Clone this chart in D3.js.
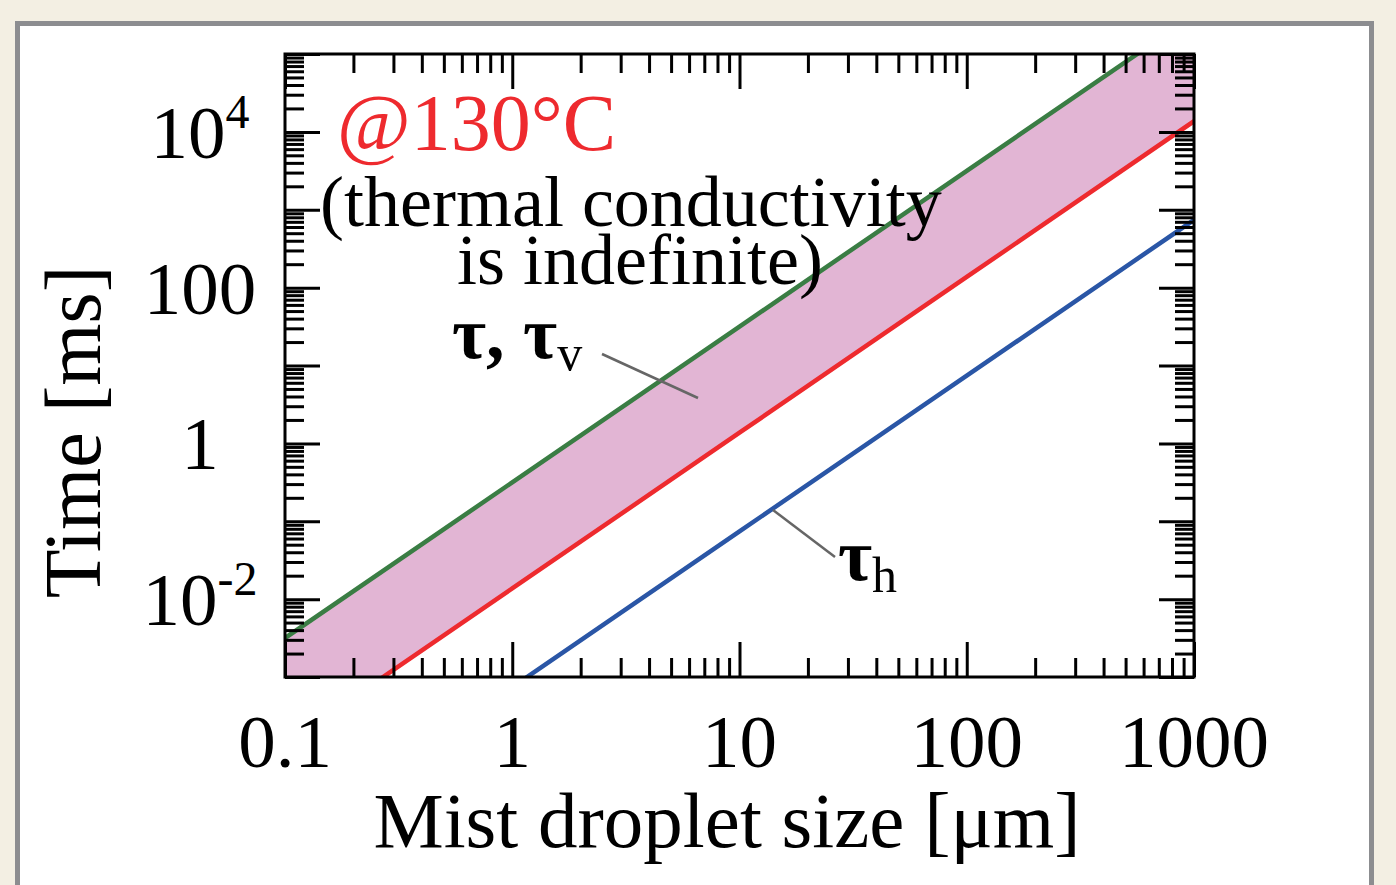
<!DOCTYPE html>
<html lang="en">

<head>
    <meta charset="UTF-8">
    <title>Mist droplet evaporation time</title>
    <style>
        body {
            margin: 0;
            padding: 0;
            background: #f3efe3;
        }

        svg {
            display: block;
        }

        text {
            font-family: "Liberation Serif", "Times New Roman", serif;
        }
    </style>
</head>

<body>

    <svg width="1396" height="885"></svg>

    <script src="https://d3js.org/d3.v7.min.js"></script>
    <script>
        // Droplet sizes [um] and times [ms] (straight lines in log-log)
        const sizes = [0.1, 1, 10, 100, 1000];
        const tauUpper = [0.00316, 0.316, 31.6, 3160, 316000];   // green
        const tauLower = [0.000137, 0.0137, 1.37, 137, 13700];   // red
        const tauH = [0.0000074, 0.00074, 0.074, 7.4, 740];       // blue

        const xLabels = ["0.1", "1", "10", "100", "1000"];
        const yLabelValues = [1e4, 100, 1, 1e-2];
        const yLabels = [["10", "4"], ["100", ""], ["1", ""], ["10", "-2"]];

        const svg = d3.select("svg");

        // plot frame
        const pLeft = 285, pRight = 1194, pTop = 54, pBottom = 677;

        const x = d3.scaleLog().domain([0.1, 1000]).range([pLeft, pRight]);
        const y = d3.scaleLog().domain([1e-3, 1e5]).range([pBottom, pTop]);

        // white panel with grey border
        svg.append("rect")
            .attr("x", 17.5).attr("y", 23.5)
            .attr("width", 1354).attr("height", 870)
            .attr("fill", "#fff")
            .attr("stroke", "#8c8d90")
            .attr("stroke-width", 5);

        svg.append("clipPath").attr("id", "plotclip")
            .append("rect")
            .attr("x", pLeft).attr("y", pTop)
            .attr("width", pRight - pLeft).attr("height", pBottom - pTop);

        const plot = svg.append("g").attr("clip-path", "url(#plotclip)");

        // shaded band between the green and red lines
        const band = d3.area()
            .x((d, i) => x(sizes[i]))
            .y0((d, i) => y(tauLower[i]))
            .y1((d, i) => y(tauUpper[i]));

        plot.append("path")
            .datum(sizes)
            .attr("d", band)
            .attr("fill", "#e2b5d4");

        const line = d3.line()
            .x(d => x(d[0]))
            .y(d => y(d[1]));

        const series = [
            { vals: tauUpper, color: "#3a7d44" },
            { vals: tauLower, color: "#ee2a2e" },
            { vals: tauH, color: "#2a56a6" }
        ];

        series.forEach(s => {
            plot.append("path")
                .datum(sizes.map((d, i) => [d, s.vals[i]]))
                .attr("d", line)
                .attr("fill", "none")
                .attr("stroke", s.color)
                .attr("stroke-width", 4.5);
        });

        // ticks - inward on all four sides
        const isMajor = v => Math.abs(Math.log10(v) - Math.round(Math.log10(v))) < 1e-9;
        const xMinor = x.ticks().filter(v => !isMajor(v));
        const xMajor = x.ticks().filter(isMajor);
        const yMinor = y.ticks().filter(v => !isMajor(v));
        const yMajor = y.ticks().filter(isMajor);

        const minorLen = 19, majorLen = 35;

        function drawAxis(axisFn, scale, pos, vals, len) {
            const g = svg.append("g")
                .attr("transform", pos)
                .call(axisFn(scale).tickValues(vals).tickSize(-len).tickFormat(""));
            g.select(".domain").remove();
            g.selectAll(".tick line").attr("stroke", "#000").attr("stroke-width", 3);
        }

        drawAxis(d3.axisBottom, x, `translate(0,${pBottom})`, xMinor, minorLen);
        drawAxis(d3.axisBottom, x, `translate(0,${pBottom})`, xMajor, majorLen);
        drawAxis(d3.axisTop, x, `translate(0,${pTop})`, xMinor, minorLen);
        drawAxis(d3.axisTop, x, `translate(0,${pTop})`, xMajor, majorLen);
        drawAxis(d3.axisLeft, y, `translate(${pLeft},0)`, yMinor, minorLen);
        drawAxis(d3.axisLeft, y, `translate(${pLeft},0)`, yMajor, majorLen);
        drawAxis(d3.axisRight, y, `translate(${pRight},0)`, yMinor, minorLen);
        drawAxis(d3.axisRight, y, `translate(${pRight},0)`, yMajor, majorLen);

        // frame
        svg.append("rect")
            .attr("x", pLeft).attr("y", pTop)
            .attr("width", pRight - pLeft).attr("height", pBottom - pTop)
            .attr("fill", "none")
            .attr("stroke", "#000")
            .attr("stroke-width", 3);

        // tick labels
        svg.append("g").selectAll("text")
            .data(xMajor)
            .join("text")
            .attr("x", d => x(d))
            .attr("y", 767)
            .attr("text-anchor", "middle")
            .attr("font-size", 75)
            .text((d, i) => xLabels[i]);

        const yl = svg.append("g").selectAll("text")
            .data(yLabelValues)
            .join("text")
            .attr("x", 200)
            .attr("y", d => y(d) + 26)
            .attr("text-anchor", "middle")
            .attr("font-size", 75);
        yl.append("tspan").text((d, i) => yLabels[i][0]);
        yl.append("tspan")
            .attr("font-size", 48)
            .attr("dy", -30)
            .text((d, i) => yLabels[i][1]);

        // axis titles
        svg.append("text")
            .attr("x", 727).attr("y", 847)
            .attr("text-anchor", "middle")
            .attr("font-size", 79)
            .text("Mist droplet size [\u03bcm]");

        svg.append("text")
            .attr("transform", "translate(100,432) rotate(-90)")
            .attr("text-anchor", "middle")
            .attr("font-size", 80)
            .text("Time [ms]");

        // annotations
        svg.append("text")
            .attr("x", 337).attr("y", 150)
            .attr("font-size", 80)
            .attr("fill", "#ee2a2e")
            .text("@130\u00b0C");

        svg.append("text")
            .attr("x", 320).attr("y", 226)
            .attr("font-size", 72)
            .text("(thermal conductivity");

        svg.append("text")
            .attr("x", 457).attr("y", 284)
            .attr("font-size", 72)
            .text("is indefinite)");

        const tv = svg.append("text")
            .attr("x", 452).attr("y", 358)
            .attr("font-size", 74)
            .attr("font-weight", "bold");
        tv.append("tspan").text("\u03c4, \u03c4");
        tv.append("tspan").attr("font-size", 50).attr("font-weight", "normal").attr("dy", 12).text("v");

        const th = svg.append("text")
            .attr("x", 838).attr("y", 580)
            .attr("font-size", 74)
            .attr("font-weight", "bold");
        th.append("tspan").text("\u03c4");
        th.append("tspan").attr("font-size", 50).attr("font-weight", "normal").attr("dy", 12).text("h");

        // leader lines
        const leaders = [
            [[602, 354], [698, 398]],
            [[773, 510], [835, 557]]
        ];
        svg.append("g").selectAll("line")
            .data(leaders)
            .join("line")
            .attr("x1", d => d[0][0]).attr("y1", d => d[0][1])
            .attr("x2", d => d[1][0]).attr("y2", d => d[1][1])
            .attr("stroke", "#666")
            .attr("stroke-width", 2.5);
    </script>

</body>

</html>
